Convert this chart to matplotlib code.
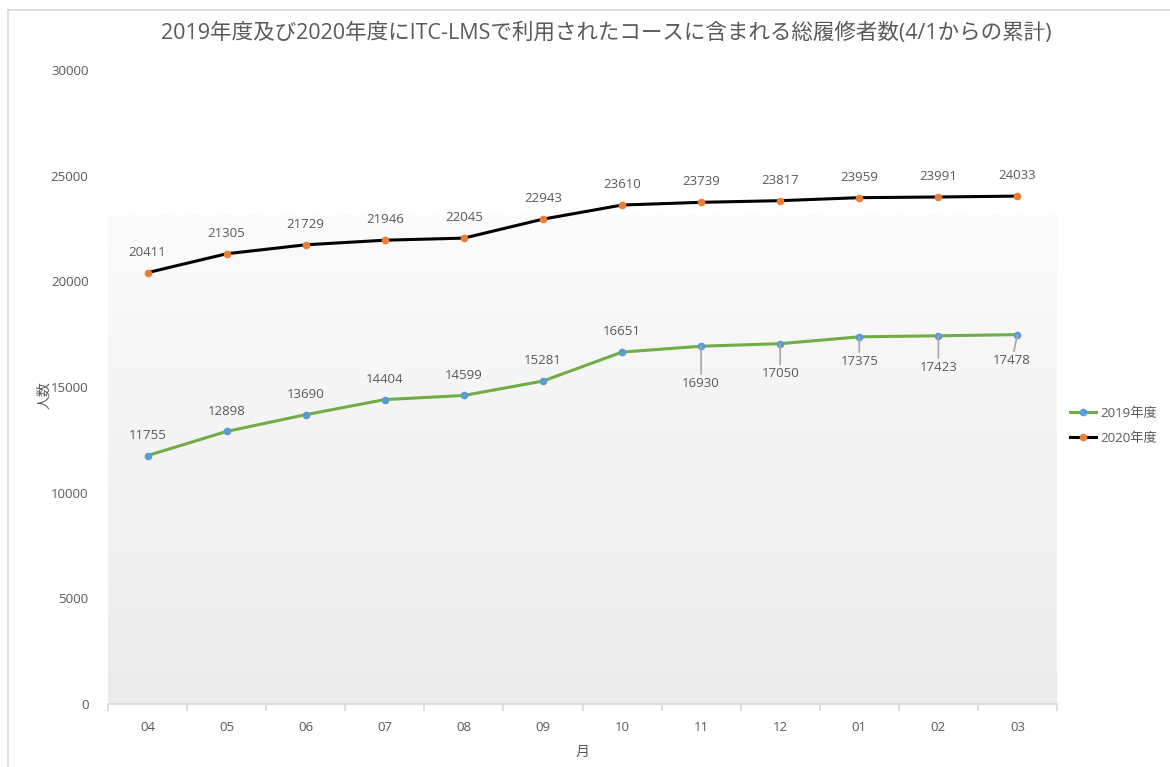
import numpy as np
import matplotlib
matplotlib.use('Agg')
import matplotlib.pyplot as plt
from matplotlib.lines import Line2D

plt.rcParams['font.family'] = ['Open Sans', 'Noto Sans CJK JP', 'DejaVu Sans']

months = ['04', '05', '06', '07', '08', '09', '10', '11', '12', '01', '02', '03']
fy2019 = [11755, 12898, 13690, 14404, 14599, 15281, 16651, 16930, 17050, 17375, 17423, 17478]
fy2020 = [20411, 21305, 21729, 21946, 22045, 22943, 23610, 23739, 23817, 23959, 23991, 24033]

title = '2019年度及び2020年度にITC-LMSで利用されたコースに含まれる総履修者数(4/1からの累計)'
text_col = '#595959'
green = '#70ad47'
blue = '#5b9bd5'
orange = '#ed7d31'

fig = plt.figure(figsize=(11.7, 7.67), dpi=100)
ax = fig.add_axes([108/1170, 1-704/767, 949/1170, 634/767])

x = np.arange(len(months))

# plot area fill: white at the top fading to light grey
grad = np.linspace(0.0, 1.0, 256).reshape(-1, 1)
cmap = matplotlib.colors.LinearSegmentedColormap.from_list('bg', ['#ebebeb', '#fbfbfb'])
ax.imshow(grad, cmap=cmap, aspect='auto', extent=[-0.5, 11.5, 0, 23100],
          origin='lower', zorder=0, interpolation='bilinear')

ax.plot(x, fy2019, color=green, lw=2.2, marker='o', ms=4.5,
        mfc=blue, mec=blue, label='2019年度', zorder=3)
ax.plot(x, fy2020, color='black', lw=2.2, marker='o', ms=4.5,
        mfc=orange, mec=orange, label='2020年度', zorder=3)

ax.set_xlim(-0.5, 11.5)
ax.set_ylim(0, 30000)
ax.set_yticks(range(0, 30001, 5000))
ax.set_xticks(x)
ax.set_xticklabels(months)
ax.set_xticks(np.arange(-0.5, 12, 1), minor=True)

for s in ['top', 'right', 'left']:
    ax.spines[s].set_visible(False)
ax.spines['bottom'].set_color('#d9d9d9')
ax.spines['bottom'].set_linewidth(1.2)
ax.tick_params(axis='x', which='major', length=0, pad=12, labelsize=9.5, labelcolor=text_col)
ax.tick_params(axis='x', which='minor', length=5, color='#d9d9d9', width=1.2)
ax.tick_params(axis='y', length=0, pad=14, labelsize=9.5, labelcolor=text_col)

ax.set_xlabel('月', color=text_col, fontsize=10, labelpad=8)
fig.text(45/1170, 1-395/767, '人数', rotation=90, ha='center', va='center',
         fontsize=10, color=text_col)

# data labels
for xi, v in zip(x, fy2020):
    ax.annotate(str(v), (xi, v), xytext=(0, 10), textcoords='offset points',
                ha='center', va='bottom', fontsize=9.5, color=text_col)
for xi, v in zip(x[:7], fy2019[:7]):
    ax.annotate(str(v), (xi, v), xytext=(0, 10), textcoords='offset points',
                ha='center', va='bottom', fontsize=9.5, color=text_col)
below = {7: (0, -22), 8: (0, -17), 9: (0, -13), 10: (0, -18), 11: (-4, -14)}
for i, off in below.items():
    ax.annotate(str(fy2019[i]), (x[i], fy2019[i]), xytext=off, textcoords='offset points',
                ha='center', va='top', fontsize=9.5, color=text_col,
                arrowprops=dict(arrowstyle='-', color='#a6a6a6', lw=1.2,
                                shrinkA=0, shrinkB=0))

ax.legend(loc='center left', bbox_to_anchor=(1070/1170, 1-426/767),
          bbox_transform=fig.transFigure, frameon=False, borderpad=0,
          borderaxespad=0, handletextpad=0.3, fontsize=9.5, labelcolor=text_col,
          handlelength=2.0, labelspacing=0.9)

fig.text(606/1170, 1-33/767, title, ha='center', va='center', fontsize=15.5, color=text_col)

# outer chart border (left and top edges)
fig.add_artist(Line2D([8/1170, 8/1170], [0, 1-10/767], transform=fig.transFigure,
                      color='#d9d9d9', lw=1.2))
fig.add_artist(Line2D([8/1170, 1], [1-10/767, 1-10/767], transform=fig.transFigure,
                      color='#d9d9d9', lw=1.2))

fig.savefig('out.png', dpi=100)
